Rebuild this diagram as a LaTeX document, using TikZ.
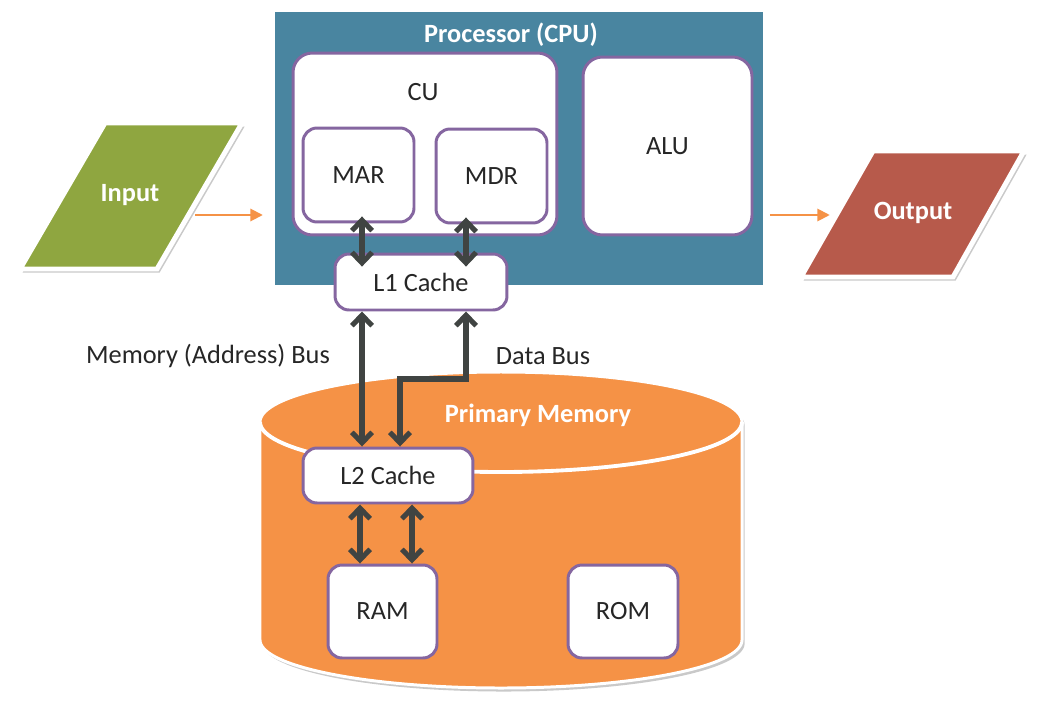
\documentclass[tikz,border=0pt]{standalone}
\usepackage{fontspec}
\setmainfont{Carlito}
\usetikzlibrary{arrows.meta,shadows}

\definecolor{cpublue}{RGB}{73,133,160}
\definecolor{memorange}{RGB}{245,146,70}
\definecolor{ingreen}{RGB}{143,166,64}
\definecolor{outred}{RGB}{183,90,75}
\definecolor{boxpurple}{RGB}{133,102,160}
\definecolor{busgray}{RGB}{64,68,66}
\definecolor{textdark}{RGB}{38,38,38}

\begin{document}
\begin{tikzpicture}[x=0.02cm, y=0.02cm,
        every node/.style={font=\fontsize{15}{18}\selectfont, text=textdark},
        softshadow/.style={drop shadow={shadow xshift=1.5pt, shadow yshift=-2pt, opacity=0.3, fill=black!70}},
        unit/.style={draw=boxpurple, line width=1.7pt, fill=white, rounded corners=8pt, inner sep=0pt},
        flowshape/.style={draw=white, line width=2.8pt, line join=miter, softshadow},
        whitebold/.style={text=white, font=\bfseries\fontsize{15}{18}\selectfont},
        bus/.style={draw=busgray, line width=2.9pt,
            {Straight Barb[length=6pt,width=11.5pt]}-{Straight Barb[length=6pt,width=11.5pt]}},
        flow/.style={draw=memorange, line width=1.1pt, shorten >=3pt,
            -{Triangle[length=7pt,width=7pt]}}
    ]
        \useasboundingbox (0,0) rectangle (1037,708);

        % ~~~~ Procesador ~~~~ %
        \node[rectangle, fill=cpublue, draw=white, line width=4pt, softshadow,
            minimum width=9.9cm, minimum height=5.6cm] (cpu) at (519,559.5) {};
        \node[whitebold] (cputitle) at (511,673) {Processor (CPU)};
        \node[unit, rounded corners=11pt, minimum width=5.28cm, minimum height=3.64cm] (cu) at (425,564) {};
        \node (cutext) at (423,616) {CU};
        \node[unit, minimum width=2.22cm, minimum height=1.88cm] (mar) at (358.5,533) {MAR};
        \node[unit, minimum width=2.22cm, minimum height=1.88cm] (mdr) at (491.5,532) {MDR};
        \node[unit, rounded corners=11pt, minimum width=3.38cm, minimum height=3.56cm] (alu) at (667.5,562) {ALU};
        \node[unit, minimum width=3.44cm, minimum height=1.12cm] (l1) at (421,426) {L1 Cache};

        % ~~~~ Memoria ~~~~ %
        \draw[white, line width=1.7pt, fill=memorange, softshadow] (260,286) -- (260,68)
            arc[start angle=180, end angle=360, x radius=241, y radius=48] -- (742,286)
            arc[start angle=0, end angle=180, x radius=241, y radius=50] -- cycle;
        \draw[white, line width=2.2pt] (260,286) arc[start angle=180, end angle=360, x radius=241, y radius=50];
        \node[whitebold] (memtitle) at (538,293) {Primary Memory};
        \node[unit, minimum width=3.4cm, minimum height=1.1cm] (l2) at (388,232.5) {L2 Cache};
        \node[unit, minimum width=2.18cm, minimum height=1.86cm] (ram) at (382.5,96.5) {RAM};
        \node[unit, minimum width=2.2cm, minimum height=1.86cm] (rom) at (623,96.5) {ROM};

        % ~~~~ Buses ~~~~ %
        \node (abuslabel) at (208,352) {Memory (Address) Bus};
        \node (dbuslabel) at (543,352) {Data Bus};
        \coordinate (abus) at (362,0);
        \coordinate (dbus) at (466,0);
        \coordinate (djog) at (400,329);
        \coordinate (rbusa) at (360,0);
        \coordinate (rbusd) at (412,0);
        \draw[bus, shorten <=-4pt, shorten >=-8pt] (mar.south -| abus) -- (l1.north -| abus);
        \draw[bus, shorten <=-4pt, shorten >=-8pt] (mdr.south -| dbus) -- (l1.north -| dbus);
        \draw[bus] (l1.south -| abus) -- (l2.north -| abus);
        \draw[bus] (l1.south -| dbus) -- (dbus |- djog) -- (djog) -- (djog |- l2.north);
        \draw[bus] (l2.south -| rbusa) -- (ram.north -| rbusa);
        \draw[bus] (l2.south -| rbusd) -- (ram.north -| rbusd);

        % ~~~~ Entrada y salida ~~~~ %
        \draw[flowshape, fill=ingreen] (20,439) -- (157,439) -- (242,585) -- (105,585) -- cycle;
        \node[whitebold] (input) at (130,513) {Input};
        \draw[flowshape, fill=outred] (801,431) -- (953,431) -- (1024,557) -- (873,557) -- cycle;
        \node[whitebold] (output) at (913,495) {Output};
        \coordinate (inedge) at (195,493);
        \coordinate (outedge) at (835,493);
        \draw[flow] (inedge) -- (inedge -| cpu.west);
        \draw[flow] (cpu.east |- outedge) -- (outedge);
    \end{tikzpicture}
\end{document}
